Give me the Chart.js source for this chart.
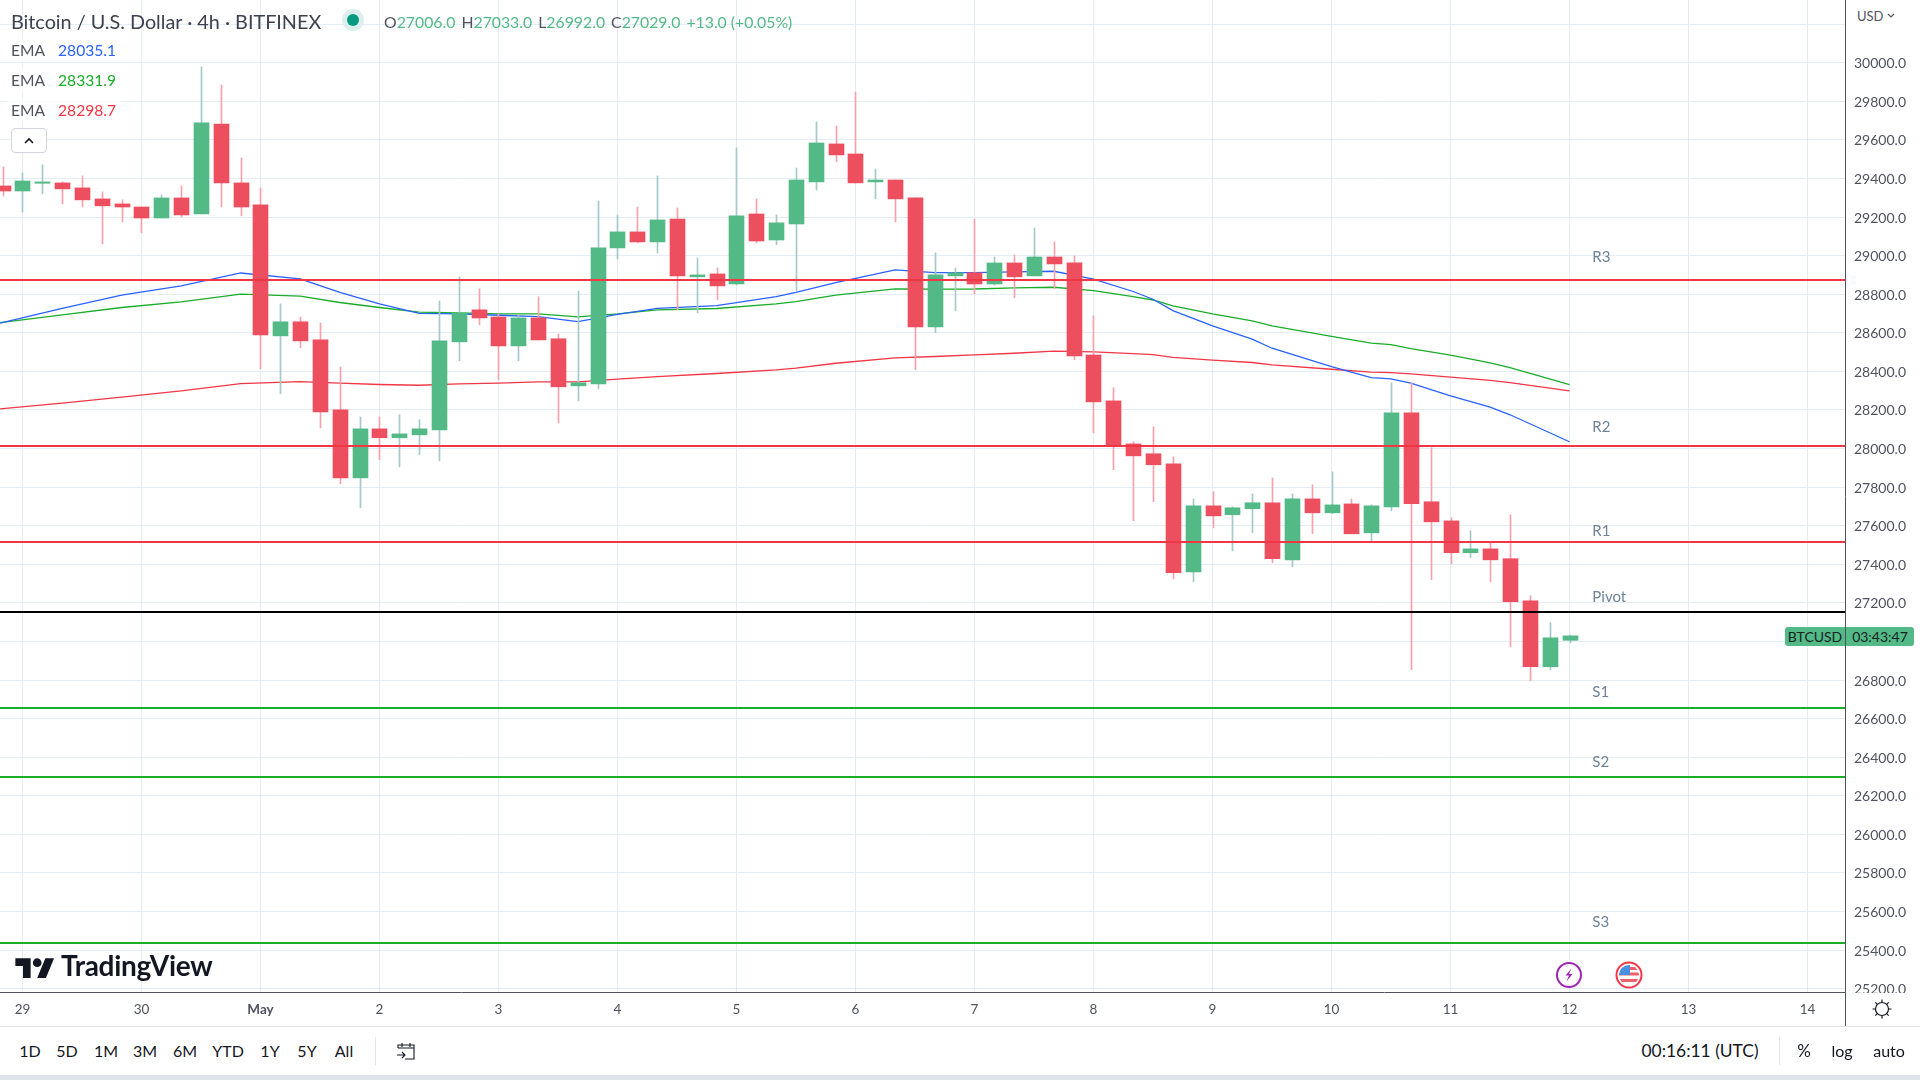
<!DOCTYPE html>
<html>
<head>
<meta charset="utf-8">
<title>BTCUSD 4h</title>
<script src="https://cdn.jsdelivr.net/npm/chart.js@4"></script>
<style>
  html, body { margin: 0; padding: 0; background: #fff; width: 1920px; height: 1080px; overflow: hidden; }
  body { font-family: Lato, "Noto Sans", sans-serif; color: #50535e; position: relative; }
  canvas { position: absolute; left: 0; top: 0; }
  .abs { position: absolute; white-space: nowrap; }
  .legend-row { left: 6px; height: 24px; line-height: 24px; padding: 0 6px 0 5px; font-size: 15.6px; background: rgba(255,255,255,.75); }
  .legend-row b { font-weight: 400; margin-left: 13px; }
  .tool { top: 1040px; font-size: 16px; line-height: 22px; color: #131722; transform: translateX(-50%); }
</style>
</head>
<body>
<canvas id="chart" width="1920" height="1026"></canvas>

<div class="abs" style="left:11px;top:9px;font-size:19.8px;line-height:25px;color:#3e4150">Bitcoin / U.S. Dollar · 4h · BITFINEX</div>
<div class="abs" style="left:342px;top:9px;width:22px;height:22px;border-radius:50%;background:#dcefec"></div>
<div class="abs" style="left:347px;top:14px;width:12px;height:12px;border-radius:50%;background:#089981"></div>
<div class="abs" style="left:384px;top:12px;font-size:15.8px;line-height:20px;color:#53b987"><span style="color:#50535e">O</span>27006.0 <span style="color:#50535e;margin-left:2px">H</span>27033.0 <span style="color:#50535e;margin-left:2px">L</span>26992.0 <span style="color:#50535e;margin-left:2px">C</span>27029.0 <span style="margin-left:2px">+13.0 (+0.05%)</span></div>

<div class="abs legend-row" style="top:38px">EMA<b style="color:#2962ff">28035.1</b></div>
<div class="abs legend-row" style="top:68px">EMA<b style="color:#1aad2a">28331.9</b></div>
<div class="abs legend-row" style="top:98px">EMA<b style="color:#f23645">28298.7</b></div>
<div class="abs" style="left:11px;top:128px;width:34px;height:23px;border:1px solid #d1d4dc;border-radius:4px;background:#fff">
  <svg width="34" height="23" viewBox="0 0 34 23"><path d="M13 14l4-4 4 4" fill="none" stroke="#131722" stroke-width="1.6"/></svg>
</div>

<!-- watermark -->
<svg class="abs" style="left:15px;top:954px" width="40" height="24" viewBox="0 0 36 22"><path d="M14 22H7V11H0V4h14v18zM28 22h-8l7.5-18h8L28 22z" fill="#131722"/><circle cx="20" cy="8" r="4" fill="#131722"/></svg>
<div class="abs" style="left:61px;top:948px;font-size:28px;line-height:34px;font-weight:700;color:#131722;letter-spacing:-.3px">TradingView</div>

<!-- event markers -->
<svg class="abs" style="left:1555px;top:961px" width="28" height="28" viewBox="0 0 28 28"><circle cx="14" cy="14" r="12" fill="#fff" stroke="#9c27b0" stroke-width="2"/><path d="M16.5 7.5l-6 7h3.5l-2.5 6 6-7.5h-3.5z" fill="#9c27b0"/></svg>
<svg class="abs" style="left:1615px;top:961px" width="28" height="28" viewBox="0 0 28 28"><defs><clipPath id="flag"><circle cx="14" cy="14" r="10"/></clipPath></defs><circle cx="14" cy="14" r="12.5" fill="#fff" stroke="#f23645" stroke-width="2"/><g clip-path="url(#flag)"><rect x="4" y="4" width="20" height="20" fill="#fff"/><rect x="4" y="6" width="20" height="3" fill="#f0616e"/><rect x="4" y="11.5" width="20" height="3" fill="#f0616e"/><rect x="4" y="18" width="20" height="3" fill="#f0616e"/><rect x="4" y="4" width="11" height="10" fill="#4a90e2"/></g></svg>

<!-- price scale extras -->
<div class="abs" style="left:1846px;top:0;width:74px;height:30px;background:#fff"></div>
<div class="abs" style="left:1857px;top:7px;font-size:13px;line-height:18px;color:#50535e">USD <svg width="8" height="6" viewBox="0 0 8 6" style="vertical-align:2px"><path d="M1 1l3 3 3-3" fill="none" stroke="#50535e" stroke-width="1.2"/></svg></div>
<div class="abs" style="left:1785px;top:627px;width:60px;height:19px;line-height:19px;background:#53b987;border-radius:3px 0 0 3px;font-size:14px;color:#17231f;text-align:center">BTCUSD</div>
<div class="abs" style="left:1846px;top:627px;width:68px;height:19px;line-height:19px;background:#53b987;border-radius:0 3px 3px 0;font-size:14px;color:#17231f;text-align:center">03:43:47</div>

<!-- corner and bottom bar -->
<div class="abs" style="left:1846px;top:993px;width:74px;height:33px;background:#fff"></div>
<div class="abs" style="left:1845px;top:992px;width:1px;height:34px;background:#50535e"></div>
<svg class="abs" style="left:1871px;top:998px" width="22" height="22" viewBox="0 0 22 22"><circle cx="11" cy="11" r="6.5" fill="none" stroke="#131722" stroke-width="1.2"/><path d="M11 1.5v3M11 17.5v3M1.5 11h3M17.5 11h3M4.3 4.3l2 2M15.7 15.7l2 2M17.7 4.3l-2 2M6.3 15.7l-2 2" stroke="#131722" stroke-width="1.2"/></svg>
<div class="abs" style="left:0;top:1026px;width:1920px;height:1px;background:#e0e3eb"></div>
<div class="abs" style="left:0;top:1075px;width:1920px;height:5px;background:#e0e3eb"></div>

<div class="abs tool" style="left:30px">1D</div>
<div class="abs tool" style="left:67px">5D</div>
<div class="abs tool" style="left:106px">1M</div>
<div class="abs tool" style="left:145px">3M</div>
<div class="abs tool" style="left:185px">6M</div>
<div class="abs tool" style="left:228px">YTD</div>
<div class="abs tool" style="left:270px">1Y</div>
<div class="abs tool" style="left:307px">5Y</div>
<div class="abs tool" style="left:344px">All</div>
<div class="abs" style="left:375px;top:1037px;width:1px;height:28px;background:#e0e3eb"></div>
<svg class="abs" style="left:395px;top:1040px" width="22" height="22" viewBox="0 0 22 22"><path d="M3 8V5h16v14h-9M3 8h16M7 3v4M15 3v4M2 15h8M7 12l3 3-3 3" fill="none" stroke="#131722" stroke-width="1.1"/></svg>
<div class="abs tool" style="left:1700px;font-size:17.4px">00:16:11 (UTC)</div>
<div class="abs" style="left:1779px;top:1037px;width:1px;height:28px;background:#e0e3eb"></div>
<div class="abs tool" style="left:1804px;font-size:17px">%</div>
<div class="abs tool" style="left:1842px">log</div>
<div class="abs tool" style="left:1889px">auto</div>

<script>
// bar index: 0 = 29 Apr 00:00, six 4h bars per day
const barIndex = [-1,0,1,2,3,4,5,6,7,8,9,10,11,12,13,14,15,16,17,18,19,20,21,22,23,24,25,26,27,28,29,30,31,32,33,34,35,36,37,38,39,40,41,42,43,44,45,46,47,48,49,50,51,52,53,54,55,56,57,58,59,60,61,62,63,64,65,66,67,68,69,70,71,72,73,74,75,76,77,78];
const opens = [29361,29335,29375,29377,29351,29294,29268,29252,29195,29299,29216,29682,29377,29263,28584,28657,28563,28201,27848,28102,28056,28071,28097,28553,28719,28682,28532,28677,28569,28325,28335,29040,29123,29071,29190,28890,28905,28853,29216,29081,29164,29382,29579,29527,29382,29392,29299,28631,28895,28911,28853,28962,28895,28993,28962,28485,28247,28024,27973,27921,27361,27703,27657,27688,27719,27423,27739,27667,27713,27563,27698,28185,27724,27625,27460,27480,27429,27211,26869,27006];
const closes = [29335,29387,29382,29346,29289,29258,29252,29195,29299,29211,29688,29377,29252,28589,28657,28558,28190,27848,28102,28056,28076,28102,28558,28703,28677,28532,28677,28563,28320,28341,29040,29123,29071,29185,28895,28900,28843,29206,29076,29170,29392,29584,29522,29377,29392,29294,28631,28900,28911,28853,28962,28890,28993,28957,28480,28242,28014,27962,27916,27356,27703,27651,27693,27719,27429,27739,27667,27708,27558,27703,28185,27714,27620,27460,27480,27423,27206,26869,27019,27029];
const highs = [29460,29429,29470,29382,29413,29330,29289,29252,29315,29361,29978,29884,29506,29351,28750,28682,28651,28423,28164,28164,28175,28149,28765,28890,28828,28698,28693,28786,28594,28817,29283,29211,29252,29413,29247,28988,28936,29558,29294,29211,29454,29693,29672,29848,29449,29392,29299,29014,28936,29190,28993,29003,29143,29071,28998,28688,28315,28035,28112,27957,27739,27776,27698,27765,27848,27765,27812,27879,27739,27708,28340,28339,28004,27641,27574,27511,27657,27237,27097,27033];
const lows = [29309,29226,29320,29268,29252,29061,29175,29118,29195,29201,29216,29252,29206,28413,28284,28522,28107,27817,27693,27942,27905,27968,27936,28455,28641,28356,28455,28563,28133,28247,28309,28983,29066,29014,28719,28703,28771,28848,29066,29056,28817,29340,29486,29377,29294,29175,28408,28600,28714,28802,28848,28781,28895,28828,28460,28081,27890,27626,27724,27325,27309,27589,27470,27563,27408,27387,27558,27662,27558,27522,27677,26854,27320,27403,27434,27309,26973,26796,26854,26992];

// EMA vertices
const emaIndex = [-1.13,2,5,8,11,14,16,18,20,22,24,26,28,30,32,35,38,39,41,44,46,48,50,52,54,56,57,58,60,62,63,66,68,69,70,72,74,75,78];
const emaBlue = [28650,28727,28795,28843,28910,28879,28809,28750,28701,28698,28691,28684,28658,28695,28727,28741,28788,28810,28860,28926,28912,28912,28916,28919,28878,28814,28774,28715,28636,28567,28520,28425,28368,28361,28339,28273,28215,28175,28035.1];
const emaGreen = [28653,28693,28731,28760,28800,28790,28757,28731,28707,28703,28698,28698,28682,28698,28719,28726,28750,28762,28795,28828,28826,28827,28833,28836,28819,28788,28770,28739,28698,28662,28636,28581,28546,28539,28518,28484,28444,28420,28331.9];
const emaRed = [28206,28235,28266,28299,28337,28347,28339,28332,28328,28335,28339,28346,28346,28360,28373,28389,28408,28417,28442,28470,28477,28485,28494,28505,28501,28492,28487,28473,28458,28446,28434,28411,28396,28394,28387,28370,28353,28342,28298.7];

// pivot levels
const levelNames = ['R3','R2','R1','Pivot','S1','S2','S3'];
const levelValues = [28874,28014,27517,27154,26657,26298,25439];
const levelLabelY = [28993,28109,27574,27232,26735,26374,25544];
const levelColors = ['#f23645','#f23645','#f23645','#000000','#1aad2a','#1aad2a','#1aad2a'];
const levelLabelX = 79.15;

const dayTicks = [0,6,12,18,24,30,36,42,48,54,60,66,72,78,84,90];
const dayLabels = ['29','30','May','2','3','4','5','6','7','8','9','10','11','12','13','14'];
const priceTicks = [25200,25400,25600,25800,26000,26200,26400,26600,26800,27000,27200,27400,27600,27800,28000,28200,28400,28600,28800,29000,29200,29400,29600,29800,30000,30200];
// sits behind the BTCUSD price tag in the original
const hiddenPriceLabels = [27000];

const xMin = -1.1345, xMax = 91.89, yMin = 25183, yMax = 30325;
const upColor = '#53b987', downColor = '#ee4f5f', upWick = '#a3c9c9', downWick = '#f7a1ad';
const gridColor = '#e4edf3';
const axisColor = '#50535e';

const isUp = i => closes[i] >= opens[i];

const datasets = [];

// EMA lines go under the candles
[[emaBlue, '#2962ff'], [emaGreen, '#1aad2a'], [emaRed, '#f23645']].forEach(([vals, color]) => {
  datasets.push({
    type: 'line',
    data: emaIndex.map((x, i) => ({ x, y: vals[i] })),
    borderColor: color,
    borderWidth: 1.3,
    pointRadius: 0,
    tension: 0,
    order: 4
  });
});

// wicks
datasets.push({
  type: 'bar',
  data: barIndex.map((x, i) => ({ x, y: [lows[i], highs[i]] })),
  backgroundColor: barIndex.map((x, i) => isUp(i) ? upWick : downWick),
  barThickness: 1,
  grouped: false,
  order: 3,
  snap: true
});

// bodies
datasets.push({
  type: 'bar',
  data: barIndex.map((x, i) => ({ x, y: [opens[i], closes[i]] })),
  backgroundColor: barIndex.map((x, i) => isUp(i) ? upColor : downColor),
  barThickness: 15,
  grouped: false,
  order: 2,
  snap: true
});

// horizontal levels
levelValues.forEach((v, i) => {
  datasets.push({
    type: 'line',
    data: [{ x: xMin, y: v }, { x: xMax, y: v }],
    borderColor: levelColors[i],
    borderWidth: 2,
    pointRadius: 0,
    order: 1,
    level: true
  });
});

// keep candles and level lines on whole pixels like the original
const pixelSnap = {
  id: 'pixelSnap',
  beforeDatasetsDraw(chart) {
    chart.data.datasets.forEach((ds, i) => {
      const meta = chart.getDatasetMeta(i);
      if (ds.snap) meta.data.forEach(el => { el.x = Math.ceil(el.x - 0.51) + 0.5; });
      if (ds.level) meta.data.forEach(el => { el.y = Math.round(el.y); });
    });
  }
};

const levelText = {
  id: 'levelText',
  afterDatasetsDraw(chart) {
    const { ctx, scales } = chart;
    ctx.save();
    ctx.font = '15px Lato, "Noto Sans", sans-serif';
    ctx.fillStyle = '#6f8399';
    ctx.textBaseline = 'middle';
    levelNames.forEach((name, i) => {
      ctx.fillText(name, scales.x.getPixelForValue(levelLabelX), scales.y.getPixelForValue(levelLabelY[i]));
    });
    ctx.restore();
  }
};

new Chart(document.getElementById('chart'), {
  type: 'bar',
  data: { datasets },
  plugins: [pixelSnap, levelText],
  options: {
    responsive: false,
    animation: false,
    events: [],
    layout: { padding: 0, autoPadding: false },
    plugins: { legend: { display: false }, tooltip: { enabled: false } },
    scales: {
      x: {
        type: 'linear',
        min: xMin,
        max: xMax,
        bounds: 'data',
        offset: false,
        afterBuildTicks(scale) { scale.ticks = dayTicks.map(value => ({ value })); },
        afterFit(scale) { scale.height = 34; scale.paddingLeft = 0; scale.paddingRight = 0; },
        grid: { color: gridColor, drawTicks: false, offset: false },
        border: { color: axisColor, width: 1 },
        ticks: {
          autoSkip: false,
          maxRotation: 0,
          padding: 10,
          color: '#50535e',
          font: ctx => ({ family: 'Lato, "Noto Sans", sans-serif', size: 13.5, weight: ctx.tick && ctx.tick.value === 12 ? 'bold' : 'normal' }),
          callback: (value) => dayLabels[value / 6]
        }
      },
      y: {
        position: 'right',
        min: yMin,
        max: yMax,
        bounds: 'data',
        afterBuildTicks(scale) { scale.ticks = priceTicks.map(value => ({ value })); },
        afterFit(scale) { scale.width = 75; scale.paddingTop = 0; scale.paddingBottom = 0; },
        grid: { color: gridColor, drawTicks: false },
        border: { color: axisColor, width: 1 },
        ticks: {
          autoSkip: false,
          padding: 9,
          labelOffset: 1,
          color: '#50535e',
          font: { family: 'Lato, "Noto Sans", sans-serif', size: 14 },
          callback: value => hiddenPriceLabels.includes(value) ? '' : value.toFixed(1)
        }
      }
    }
  }
});
</script>
</body>
</html>
